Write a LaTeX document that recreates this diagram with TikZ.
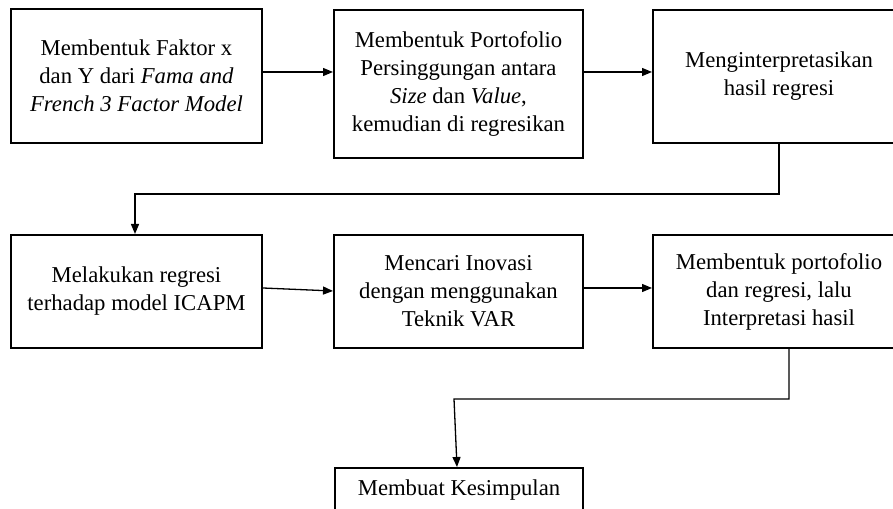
\documentclass[tikz,border=0pt]{standalone}
\usepackage{fontspec}
\setmainfont{Liberation Serif}
\usetikzlibrary{arrows.meta}

\tikzset{
    stepbox/.style={draw=black, line width=2pt, align=center, inner sep=4pt,
        font=\fontsize{22.7}{28}\selectfont},
    arr/.style={line width=1.3pt, -{Triangle[length=10pt,width=8pt]}}
}

\begin{document}
\begin{tikzpicture}[x=1pt,y=1pt]
    \useasboundingbox (0,0) rectangle (893,508);
    \clip (0,0) rectangle (893,508);
    % first row
    \node[stepbox, minimum width=251, minimum height=134] (box1) at (136.5,432) {Membentuk Faktor x\\dan Y dari \textit{Fama and}\\\textit{French 3 Factor Model}};
    \node[stepbox, minimum width=249, minimum height=148] (box2) at (458.5,424) {Membentuk Portofolio\\Persinggungan antara\\\textit{Size} dan \textit{Value},\\kemudian di regresikan};
    \node[stepbox, minimum width=252, minimum height=133] (box3) at (779,431.5) {Menginterpretasikan\\hasil regresi};
    % second row
    \node[stepbox, minimum width=251, minimum height=113] (box4) at (136.5,216.5) {Melakukan regresi\\terhadap model ICAPM};
    \node[stepbox, minimum width=249, minimum height=113] (box5) at (458.5,216.5) {Mencari Inovasi\\dengan menggunakan\\Teknik VAR};
    \node[stepbox, minimum width=252, minimum height=113] (box6) at (779,216.5) {Membentuk portofolio\\dan regresi, lalu\\Interpretasi hasil};
    % last step
    \node[stepbox, minimum width=248, minimum height=44, anchor=north] (box7) at (459,41) {Membuat Kesimpulan};
    \coordinate (bend) at (454,109);

    \draw[arr] ([yshift=4pt]box1.east) -- ([yshift=12pt]box2.west);
    \draw[arr] ([yshift=12pt]box2.east) -- ([yshift=4.5pt]box3.west);
    \draw[arr] (box3.south) -- ++(0,-50) -| ([xshift=-1.5pt]box4.north);
    \draw[arr] ([yshift=3.5pt]box4.east) -- ([yshift=0.5pt]box5.west);
    \draw[arr] ([yshift=3.5pt]box5.east) -- ([yshift=3.5pt]box6.west);
    \draw[arr] ([xshift=10pt]box6.south) |- (bend) -- ([xshift=-2pt]box7.north);
\end{tikzpicture}
\end{document}
